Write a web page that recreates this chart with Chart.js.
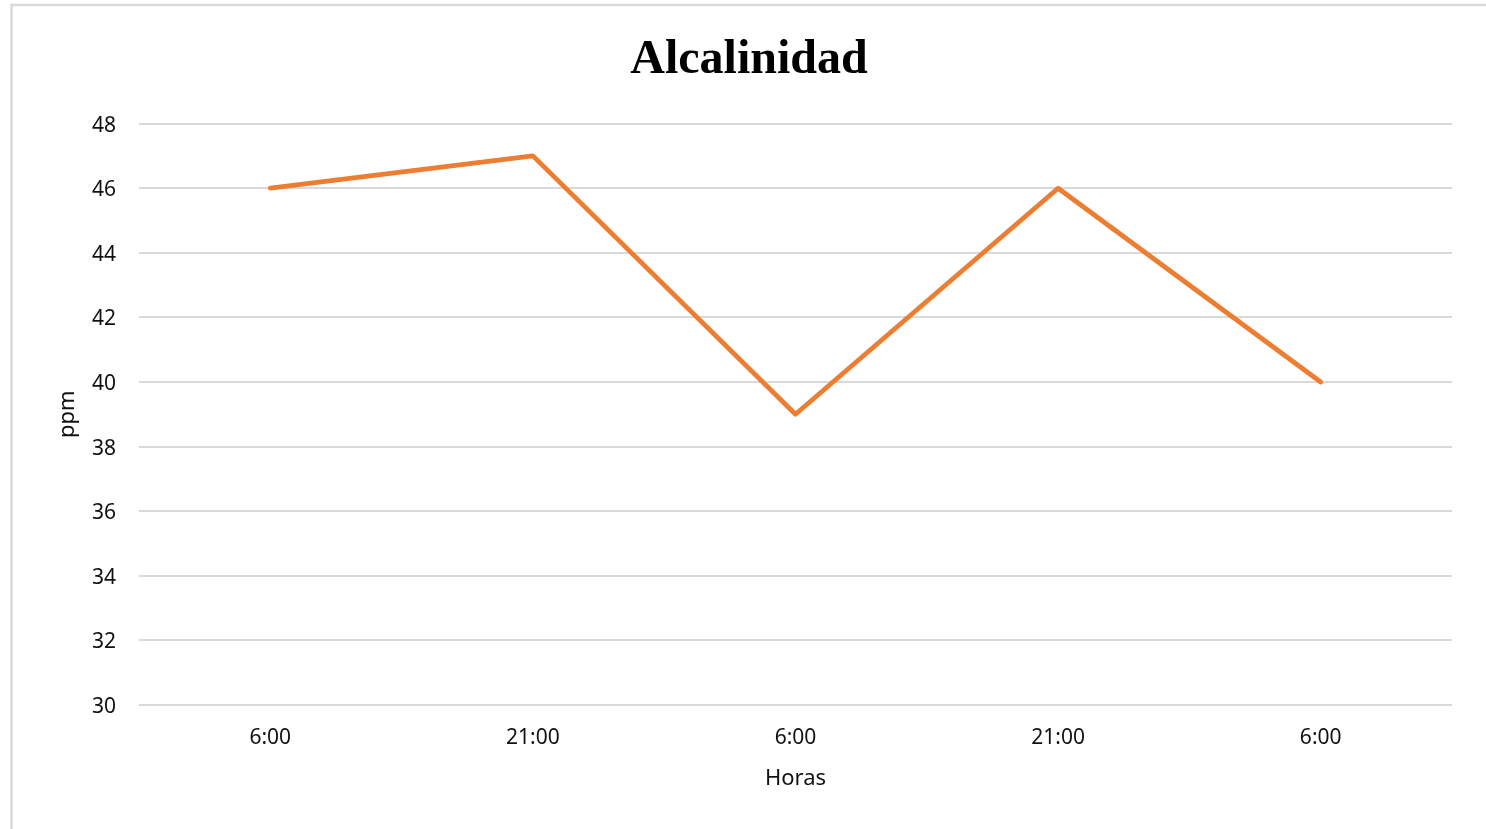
<!DOCTYPE html>
<html>
<head>
<meta charset="utf-8">
<script src="https://cdn.jsdelivr.net/npm/chart.js@4.4.1/dist/chart.umd.min.js"></script>
<style>
  html, body { margin: 0; padding: 0; background: #fff; }
  #wrap { width: 1486px; height: 829px; position: relative; }
</style>
</head>
<body>
<div id="wrap"><canvas id="c" width="1486" height="829"></canvas></div>
<script>
const categories = ['6:00', '21:00', '6:00', '21:00', '6:00'];
const alcalinidad = [46, 47, 39, 46, 40];
const yMin = 30, yMax = 48, yStep = 2;
const chartTitle = 'Alcalinidad';
const xTitle = 'Horas';
const yTitle = 'ppm';

const framePlugin = {
  id: 'frame',
  beforeDraw(chart) {
    const ctx = chart.ctx;
    ctx.save();
    ctx.fillStyle = '#fff';
    ctx.fillRect(0, 0, chart.width, chart.height);
    ctx.strokeStyle = '#d9d9d9';
    ctx.lineWidth = 2.5;
    ctx.strokeRect(11.5, 5, chart.width + 20, chart.height - 3);
    ctx.restore();
  }
};

const tickFont = { family: '"Noto Sans", "Open Sans", sans-serif', size: 21 };
const titleFont = { family: '"Noto Sans", "Open Sans", sans-serif', size: 22 };

new Chart(document.getElementById('c'), {
  type: 'line',
  data: {
    labels: categories,
    datasets: [{
      label: 'Alcalinidad',
      data: alcalinidad,
      borderColor: '#ED7D31',
      backgroundColor: '#ED7D31',
      borderWidth: 4.8,
      borderCapStyle: 'round',
      borderJoinStyle: 'round',
      pointRadius: 0,
      tension: 0,
      fill: false
    }]
  },
  options: {
    responsive: false,
    animation: false,
    layout: { padding: { left: 23, right: 11, top: 0, bottom: 0 } },
    plugins: {
      legend: { display: false },
      tooltip: { enabled: false },
      title: {
        display: true,
        text: chartTitle,
        color: '#000',
        font: { family: '"Liberation Serif", "Times New Roman", serif', size: 48, weight: 'bold' },
        padding: { top: 32, bottom: 34 }
      }
    },
    scales: {
      x: {
        offset: true,
        grid: { display: false },
        border: { display: false },
        ticks: { color: '#111', font: tickFont, padding: 12, maxRotation: 0 },
        title: { display: true, text: xTitle, color: '#111', font: titleFont, padding: { top: 0, bottom: 37 } },
        afterFit(scale) { scale.height = 124; }
      },
      y: {
        min: yMin,
        max: yMax,
        grid: { color: '#d9d9d9', lineWidth: 2, drawTicks: false },
        border: { display: false },
        ticks: { stepSize: yStep, color: '#111', font: tickFont, padding: 23, labelOffset: 2 },
        title: { display: true, text: yTitle, color: '#111', font: titleFont, padding: { top: 32, bottom: 0 } },
        afterFit(scale) { scale.width = 116; }
      },
      yRightSpacer: {
        type: 'linear',
        position: 'right',
        display: true,
        grid: { display: false },
        border: { display: false },
        ticks: { display: false },
        afterFit(scale) { scale.width = 23; }
      }
    }
  },
  plugins: [framePlugin]
});
</script>
</body>
</html>
